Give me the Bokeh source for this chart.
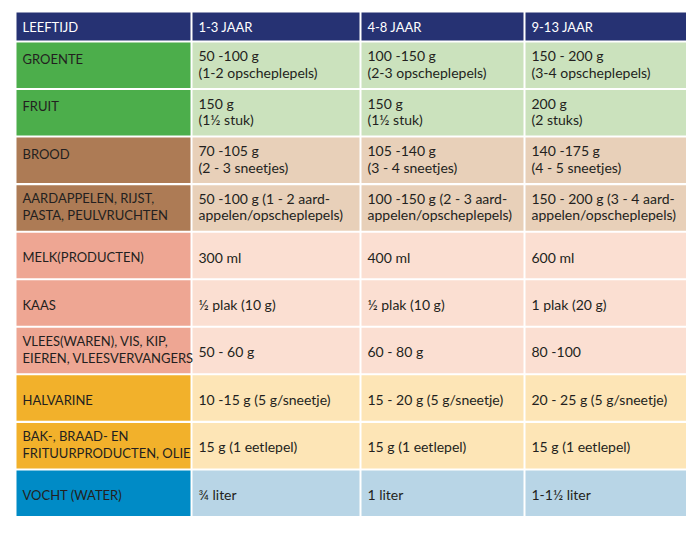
from bokeh.plotting import figure
from bokeh.models import Range1d, ColumnDataSource
from bokeh.core.properties import value
from bokeh.embed import file_html
from bokeh.resources import INLINE

# ---- data ----
header = ["LEEFTIJD", "1-3 JAAR", "4-8 JAAR", "9-13 JAAR"]
categories = ["GROENTE", "FRUIT", "BROOD", "AARDAPPELEN, RIJST,\nPASTA, PEULVRUCHTEN",
              "MELK(PRODUCTEN)", "KAAS", "VLEES(WAREN), VIS, KIP,\nEIEREN, VLEESVERVANGERS",
              "HALVARINE", "BAK-, BRAAD- EN\nFRITUURPRODUCTEN, OLIE", "VOCHT (WATER)"]
age_1_3 = ["50 -100 g\n(1-2 opscheplepels)", "150 g\n(1½ stuk)", "70 -105 g\n(2 - 3 sneetjes)",
           "50 -100 g (1 - 2 aard-\nappelen/opscheplepels)", "300 ml", "½ plak (10 g)", "50 - 60 g",
           "10 -15 g (5 g/sneetje)", "15 g (1 eetlepel)", "¾ liter"]
age_4_8 = ["100 -150 g\n(2-3 opscheplepels)", "150 g\n(1½ stuk)", "105 -140 g\n(3 - 4 sneetjes)",
           "100 -150 g (2 - 3 aard-\nappelen/opscheplepels)", "400 ml", "½ plak (10 g)", "60 - 80 g",
           "15 - 20 g (5 g/sneetje)", "15 g (1 eetlepel)", "1 liter"]
age_9_13 = ["150 - 200 g\n(3-4 opscheplepels)", "200 g\n(2 stuks)", "140 -175 g\n(4 - 5 sneetjes)",
            "150 - 200 g (3 - 4 aard-\nappelen/opscheplepels)", "600 ml", "1 plak (20 g)", "80 -100",
            "20 - 25 g (5 g/sneetje)", "15 g (1 eetlepel)", "1-1½ liter"]
groups = ["green", "green", "brown", "brown", "salmon", "salmon", "salmon", "orange", "orange", "blue"]

# ---- styles ----
label_colors = {"green": "#4cae4b", "brown": "#ad7b55", "salmon": "#eea693", "orange": "#f2b12b", "blue": "#008bc6"}
cell_colors = {"green": "#cbe2bd", "brown": "#e8d0b9", "salmon": "#fbdfd2", "orange": "#fde5b6", "blue": "#b8d5e6"}
header_color = "#263273"
text_color = "#231f20"
FONT = "Lato"
FS_VAL = "14px"
FS_CAPS = "13px"

W, H = 686, 532
col_left = [16, 192, 361, 525]
col_right = [190, 359, 523, 686]
pad = 6
head_top, head_bot = 12, 40
row_top0, pitch, row_h = 42, 47.55, 45.5
line_gap = 16.5

# ---- build rects ----
rx0, rx1, ry0, ry1, rc = [], [], [], [], []
for j in range(4):
    rx0.append(col_left[j]); rx1.append(col_right[j]); ry0.append(head_top); ry1.append(head_bot); rc.append(header_color)
columns = [categories, age_1_3, age_4_8, age_9_13]
tx, ty, tt, tcol, tfs = [], [], [], [], []
for j, h in enumerate(header):
    tx.append(col_left[j] + pad); ty.append((head_top + head_bot) / 2 + 0.5); tt.append(h); tcol.append("white"); tfs.append(FS_CAPS)

for i in range(len(categories)):
    top = row_top0 + i * pitch
    bot = top + row_h
    g = groups[i]
    for j in range(4):
        rx0.append(col_left[j]); rx1.append(col_right[j]); ry0.append(top); ry1.append(bot)
        rc.append(label_colors[g] if j == 0 else cell_colors[g])
    row_multi = any("\n" in columns[j][i] for j in range(4))
    for j in range(4):
        lines = columns[j][i].split("\n")
        if len(lines) == 2:
            ys = [top + 13.3, top + 13.3 + line_gap]
        elif row_multi:
            ys = [top + 16] if j == 0 else [top + 24]
        else:
            ys = [top + 24.5]
        for ln, yy in zip(lines, ys):
            tx.append(col_left[j] + pad); ty.append(yy); tt.append(ln); tcol.append(text_color)
            tfs.append(FS_CAPS if j == 0 else FS_VAL)

p = figure(width=W, height=H, output_backend="svg", toolbar_location=None,
           x_range=Range1d(0, W), y_range=Range1d(H, 0), min_border=0)
p.axis.visible = False
p.grid.visible = False
p.outline_line_color = None
p.background_fill_color = "white"
p.border_fill_color = "white"

p.quad(left=rx0, right=rx1, top=ry0, bottom=ry1, fill_color=rc, line_color=None)
src = ColumnDataSource(dict(x=tx, y=ty, t=tt, c=tcol, fs=tfs))
p.text(x="x", y="y", text="t", text_color="c", text_font_size="fs", source=src, text_font=value(FONT),
       text_baseline="middle", text_align="left")

open("out.html", "w").write(file_html(p, INLINE))
